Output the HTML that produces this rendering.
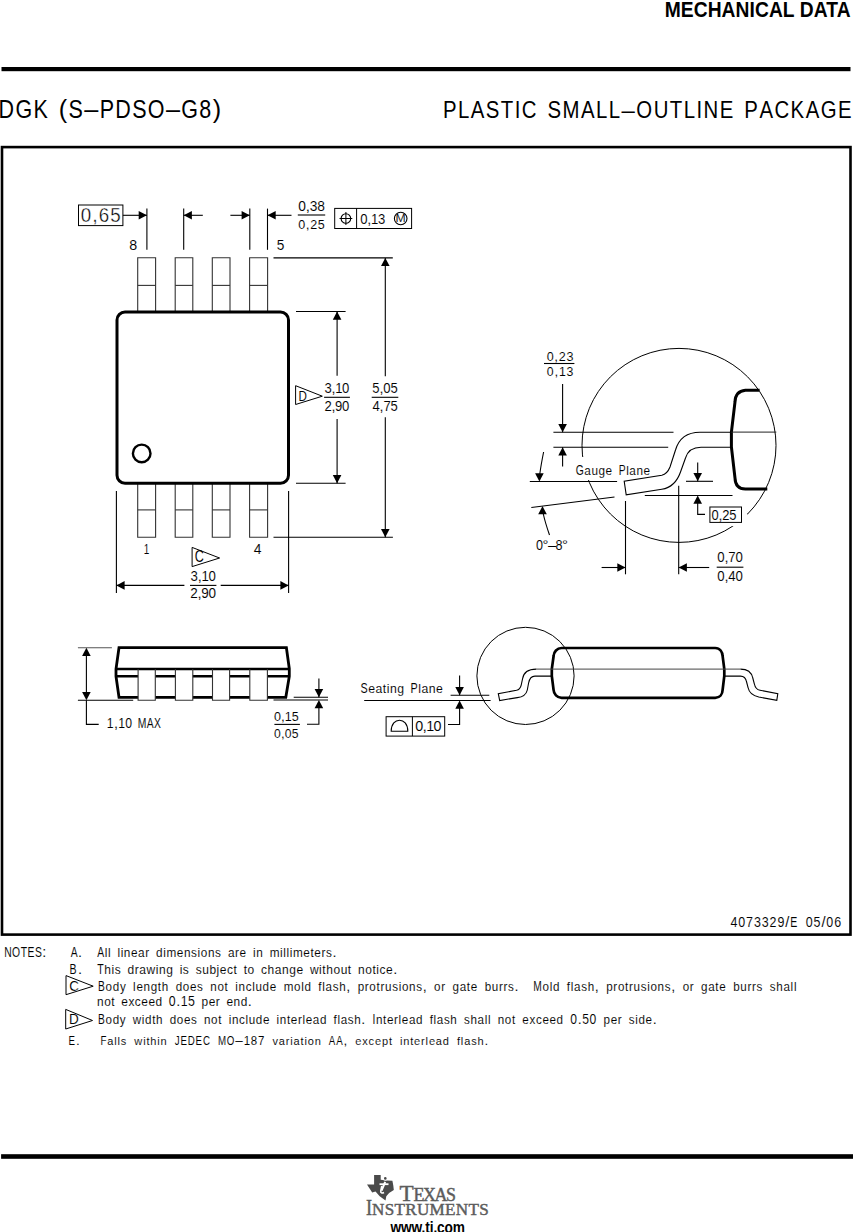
<!DOCTYPE html>
<html><head><meta charset="utf-8"><style>
html,body{margin:0;padding:0;background:#fff;}
svg{display:block;}
text{font-family:"Liberation Sans",sans-serif;stroke:#fff;stroke-width:0.08px;}
text.h{stroke:none;}
</style></head><body>
<svg width="853" height="1232" viewBox="0 0 853 1232">
<rect x="0" y="0" width="853" height="1232" fill="#fff"/>
<text transform="scale(0.9,1)" x="738.57" y="17.00" font-size="21.37" font-weight="bold" fill="#000" textLength="206.44" lengthAdjust="spacing" class="h">MECHANICAL DATA</text>
<rect x="1.5" y="67" width="849" height="4.2" fill="#000"/>
<text transform="scale(0.85,1)" x="-1.72 18.11 39.35 80.67 117.23 135.67 155.50 173.94 213.30" y="118" font-size="25.29" font-weight="normal" fill="#000" style="stroke-width:0px" >DGKSPDSOG</text>
<text x="58.82 84.24 165.90 212.65" y="118" font-size="25.29" font-weight="normal" fill="#000" style="stroke-width:0px" >(––)</text>
<text transform="scale(0.85,1)" x="234.54" y="118" font-size="25.29" font-weight="normal" fill="#000" style="stroke-width:0px" >8</text>
<text transform="scale(0.85,1)" x="521.09 538.78 553.82 571.51 589.20 605.55 613.91 644.16 661.85 683.52 701.22 716.25 748.67 769.02 788.04 804.39 819.42 827.78 846.80 875.72 893.41 911.11 930.12 947.81 965.51 985.86" y="118" font-size="23.98" font-weight="normal" fill="#000" style="stroke-width:0px" >PLASTICSMALLOUTLINEPACKAGE</text>
<text x="621.59" y="118" font-size="23.98" font-weight="normal" fill="#000" style="stroke-width:0px" >–</text>
<rect x="2" y="147.1" width="848.5" height="787.5" fill="none" stroke="#000" stroke-width="2.6"/>
<rect x="78.5" y="205" width="44.40" height="20.60" stroke="#000" stroke-width="1.0" fill="none"/>
<text transform="scale(0.95,1)" x="85.02 104.04 116.15" y="222" font-size="19.77" font-weight="normal" fill="#000" style="stroke-width:0.35px" >065</text>
<text x="92.28" y="222" font-size="19.77" font-weight="normal" fill="#000" style="stroke-width:0.35px" >,</text>
<line x1="122.9" y1="215.3" x2="146.9" y2="215.3" stroke="#000" stroke-width="1.1"/>
<polygon points="146.90,215.30 138.70,211.00 138.70,219.60" fill="#000"/>
<line x1="146.9" y1="208.6" x2="146.9" y2="249.8" stroke="#000" stroke-width="1.1"/>
<line x1="183.7" y1="208.6" x2="183.7" y2="249.8" stroke="#000" stroke-width="1.1"/>
<line x1="249.8" y1="208.6" x2="249.8" y2="249.8" stroke="#000" stroke-width="1.1"/>
<line x1="267.5" y1="208.6" x2="267.5" y2="249.8" stroke="#000" stroke-width="1.1"/>
<line x1="202.8" y1="215.3" x2="183.7" y2="215.3" stroke="#000" stroke-width="1.1"/>
<polygon points="183.70,215.30 191.90,211.00 191.90,219.60" fill="#000"/>
<line x1="230.4" y1="215.3" x2="249.8" y2="215.3" stroke="#000" stroke-width="1.1"/>
<polygon points="249.80,215.30 241.60,211.00 241.60,219.60" fill="#000"/>
<line x1="291.5" y1="215.3" x2="267.5" y2="215.3" stroke="#000" stroke-width="1.1"/>
<polygon points="267.50,215.30 275.70,211.00 275.70,219.60" fill="#000"/>
<text transform="scale(0.92,1)" x="324.20 336.61 344.72" y="211" font-size="14.97" font-weight="normal" fill="#000" >038</text>
<text x="305.72" y="211" font-size="14.97" font-weight="normal" fill="#000" >,</text>
<text transform="scale(0.92,1)" x="324.25 337.17 345.37" y="229" font-size="13.66" font-weight="normal" fill="#000" >025</text>
<text x="305.85" y="229" font-size="13.66" font-weight="normal" fill="#000" >,</text>
<line x1="297.8" y1="215" x2="325.2" y2="215" stroke="#000" stroke-width="1.1"/>
<rect x="334.7" y="208.4" width="76.90" height="20.10" stroke="#000" stroke-width="1.0" fill="none"/>
<line x1="356.6" y1="208.4" x2="356.6" y2="228.5" stroke="#000" stroke-width="1.0"/>
<circle cx="345.9" cy="218.5" r="4.8" fill="none" stroke="#000" stroke-width="1.1"/>
<line x1="339.5" y1="218.5" x2="352.3" y2="218.5" stroke="#000" stroke-width="1.0"/>
<line x1="345.9" y1="212" x2="345.9" y2="225" stroke="#000" stroke-width="1.0"/>
<text transform="scale(0.92,1)" x="391.51 403.27 410.96" y="224" font-size="14.24" font-weight="normal" fill="#000" >013</text>
<text x="367.26" y="224" font-size="14.24" font-weight="normal" fill="#000" >,</text>
<circle cx="400.7" cy="218.5" r="6.3" fill="none" stroke="#000" stroke-width="1.1"/>
<text transform="scale(1.0542,1)" x="375.26" y="222.50" font-size="11.63" font-weight="normal" fill="#000" >M</text>
<text transform="scale(0.9268,1)" x="139.39" y="249.80" font-size="15.41" font-weight="normal" fill="#000" >8</text>
<text transform="scale(0.8898,1)" x="311.02" y="249.80" font-size="15.41" font-weight="normal" fill="#000" >5</text>
<path d="M137.7,311 L137.7,257.8 L155.6,257.8 L155.6,311" stroke="#333" stroke-width="1.1" fill="none" />
<line x1="137.7" y1="285.4" x2="155.6" y2="285.4" stroke="#333" stroke-width="1.1"/>
<path d="M137.7,484 L137.7,537.3 L155.6,537.3 L155.6,484" stroke="#333" stroke-width="1.1" fill="none" />
<line x1="137.7" y1="509.9" x2="155.6" y2="509.9" stroke="#333" stroke-width="1.1"/>
<path d="M175.2,311 L175.2,257.8 L192.8,257.8 L192.8,311" stroke="#333" stroke-width="1.1" fill="none" />
<line x1="175.2" y1="285.4" x2="192.8" y2="285.4" stroke="#333" stroke-width="1.1"/>
<path d="M175.2,484 L175.2,537.3 L192.8,537.3 L192.8,484" stroke="#333" stroke-width="1.1" fill="none" />
<line x1="175.2" y1="509.9" x2="192.8" y2="509.9" stroke="#333" stroke-width="1.1"/>
<path d="M212.3,311 L212.3,257.8 L230.0,257.8 L230.0,311" stroke="#333" stroke-width="1.1" fill="none" />
<line x1="212.3" y1="285.4" x2="230.0" y2="285.4" stroke="#333" stroke-width="1.1"/>
<path d="M212.3,484 L212.3,537.3 L230.0,537.3 L230.0,484" stroke="#333" stroke-width="1.1" fill="none" />
<line x1="212.3" y1="509.9" x2="230.0" y2="509.9" stroke="#333" stroke-width="1.1"/>
<path d="M249.6,311 L249.6,257.8 L267.6,257.8 L267.6,311" stroke="#333" stroke-width="1.1" fill="none" />
<line x1="249.6" y1="285.4" x2="267.6" y2="285.4" stroke="#333" stroke-width="1.1"/>
<path d="M249.6,484 L249.6,537.3 L267.6,537.3 L267.6,484" stroke="#333" stroke-width="1.1" fill="none" />
<line x1="249.6" y1="509.9" x2="267.6" y2="509.9" stroke="#333" stroke-width="1.1"/>
<rect x="117" y="312" width="171.5" height="171.2" rx="8" ry="8" fill="none" stroke="#000" stroke-width="3"/>
<circle cx="141.7" cy="453.4" r="8.8" fill="none" stroke="#000" stroke-width="2.4"/>
<line x1="273.5" y1="257.9" x2="392.8" y2="257.9" stroke="#000" stroke-width="1.1"/>
<line x1="273.5" y1="537.3" x2="392.9" y2="537.3" stroke="#000" stroke-width="1.1"/>
<line x1="385.3" y1="376.3" x2="385.3" y2="257.9" stroke="#000" stroke-width="1.1"/>
<polygon points="385.30,257.90 381.00,266.10 389.60,266.10" fill="#000"/>
<line x1="385.3" y1="417.3" x2="385.3" y2="537.3" stroke="#000" stroke-width="1.1"/>
<polygon points="385.30,537.30 381.00,529.10 389.60,529.10" fill="#000"/>
<line x1="296" y1="311.5" x2="345.6" y2="311.5" stroke="#000" stroke-width="1.1"/>
<line x1="296" y1="483.3" x2="345.6" y2="483.3" stroke="#000" stroke-width="1.1"/>
<line x1="337.1" y1="375.8" x2="337.1" y2="311.5" stroke="#000" stroke-width="1.1"/>
<polygon points="337.10,311.50 332.80,319.70 341.40,319.70" fill="#000"/>
<line x1="337.1" y1="419" x2="337.1" y2="483.3" stroke="#000" stroke-width="1.1"/>
<polygon points="337.10,483.30 332.80,475.10 341.40,475.10" fill="#000"/>
<text transform="scale(0.92,1)" x="352.83 364.32 371.87" y="393" font-size="14.24" font-weight="normal" fill="#000" >310</text>
<text x="331.55" y="393" font-size="14.24" font-weight="normal" fill="#000" >,</text>
<text transform="scale(0.92,1)" x="352.65 364.26 371.87" y="411" font-size="14.24" font-weight="normal" fill="#000" >290</text>
<text x="331.45" y="411" font-size="14.24" font-weight="normal" fill="#000" >,</text>
<line x1="324.1" y1="397.3" x2="349.9" y2="397.3" stroke="#000" stroke-width="1.1"/>
<text transform="scale(0.92,1)" x="404.54 416.66 424.52" y="393" font-size="14.24" font-weight="normal" fill="#000" >505</text>
<text x="379.41" y="393" font-size="14.24" font-weight="normal" fill="#000" >,</text>
<text transform="scale(0.92,1)" x="404.78 416.74 424.52" y="411" font-size="14.24" font-weight="normal" fill="#000" >475</text>
<text x="379.56" y="411" font-size="14.24" font-weight="normal" fill="#000" >,</text>
<line x1="371.7" y1="397.3" x2="398.3" y2="397.3" stroke="#000" stroke-width="1.1"/>
<path d="M295.6,385.7 L322.3,396.2 L295.6,404.5 Z" stroke="#000" stroke-width="1.0" fill="none" />
<text transform="scale(0.7491,1)" x="398.42" y="401.00" font-size="15.55" font-weight="normal" fill="#000" >D</text>
<line x1="116.4" y1="490.9" x2="116.4" y2="593" stroke="#000" stroke-width="1.1"/>
<line x1="288.6" y1="490.9" x2="288.6" y2="593" stroke="#000" stroke-width="1.1"/>
<line x1="184.4" y1="585.4" x2="116.4" y2="585.4" stroke="#000" stroke-width="1.1"/>
<polygon points="116.40,585.40 124.60,581.10 124.60,589.70" fill="#000"/>
<line x1="220.7" y1="585.4" x2="288.6" y2="585.4" stroke="#000" stroke-width="1.1"/>
<polygon points="288.60,585.40 280.40,581.10 280.40,589.70" fill="#000"/>
<text transform="scale(0.92,1)" x="207.06 218.93 226.69" y="581" font-size="14.39" font-weight="normal" fill="#000" >310</text>
<text x="197.64" y="581" font-size="14.39" font-weight="normal" fill="#000" >,</text>
<text transform="scale(0.92,1)" x="206.87 218.74 226.54" y="598" font-size="14.68" font-weight="normal" fill="#000" >290</text>
<text x="197.50" y="598" font-size="14.68" font-weight="normal" fill="#000" >,</text>
<line x1="190" y1="585.4" x2="216.4" y2="585.4" stroke="#000" stroke-width="1.1"/>
<text transform="scale(0.7002,1)" x="205.30" y="553.70" font-size="14.24" font-weight="normal" fill="#000" >1</text>
<text transform="scale(0.9752,1)" x="260.12" y="553.70" font-size="14.24" font-weight="normal" fill="#000" >4</text>
<path d="M192.1,547.4 L219.6,558 L192.1,566.6 Z" stroke="#000" stroke-width="1.0" fill="none" />
<text transform="scale(0.7901,1)" x="246.63" y="562.50" font-size="15.99" font-weight="normal" fill="#000" >C</text>
<circle cx="679" cy="445.4" r="97" fill="none" stroke="#000" stroke-width="1.0"/>
<text transform="scale(0.92,1)" x="594.25 607.40 615.72" y="361" font-size="13.66" font-weight="normal" fill="#000" >023</text>
<text x="554.36" y="361" font-size="13.66" font-weight="normal" fill="#000" >,</text>
<text transform="scale(0.92,1)" x="594.26 607.53 615.87" y="376" font-size="13.37" font-weight="normal" fill="#000" >013</text>
<text x="554.39" y="376" font-size="13.37" font-weight="normal" fill="#000" >,</text>
<line x1="544" y1="363.5" x2="574.4" y2="363.5" stroke="#000" stroke-width="1.1"/>
<line x1="562.6" y1="384" x2="562.6" y2="432.3" stroke="#000" stroke-width="1.1"/>
<polygon points="562.60,432.30 558.30,424.10 566.90,424.10" fill="#000"/>
<line x1="553.4" y1="432.3" x2="673.5" y2="432.3" stroke="#000" stroke-width="1.1"/>
<line x1="553.4" y1="447.3" x2="668.2" y2="447.3" stroke="#000" stroke-width="1.1"/>
<line x1="562.6" y1="466.6" x2="562.6" y2="447.3" stroke="#000" stroke-width="1.1"/>
<polygon points="562.60,447.30 558.30,455.50 566.90,455.50" fill="#000"/>
<rect x="572" y="457" width="80" height="23" fill="#fff"/>
<text transform="scale(0.72,1)" x="799.69 859.39" y="475" font-size="14.39" font-weight="normal" fill="#000" >GP</text>
<text transform="scale(0.95,1)" x="615.12 622.57 630.01 637.45 659.16 662.47 669.91 677.35" y="475" font-size="12.37" font-weight="normal" fill="#000" >augelane</text>
<line x1="529.8" y1="481.5" x2="617.1" y2="481.5" stroke="#000" stroke-width="1.1"/>
<line x1="531.3" y1="507.5" x2="614.5" y2="497" stroke="#000" stroke-width="1.1"/>
<path d="M543.6,452 Q541,465 539.8,474" stroke="#000" stroke-width="1.1" fill="none" />
<polygon points="539.40,481.50 535.10,473.30 543.70,473.30" fill="#000"/>
<path d="M549.5,535 Q545,522 543.2,513.5" stroke="#000" stroke-width="1.1" fill="none" />
<polygon points="542.50,506.10 538.20,514.30 546.80,514.30" fill="#000"/>
<text transform="scale(0.85,1)" x="630.71 653.66" y="550" font-size="14.83" font-weight="normal" fill="#000" >08</text>
<text x="542.56 547.93 562.06" y="550" font-size="14.83" font-weight="normal" fill="#000" >°–°</text>
<path d="M731.5,432.2 L700,432.2 C688,432.2 679,438 675.5,450 L670,467 C668,472 665,474.5 661.8,475.2 L624.2,481.3 L626.2,494.8 L661.8,489.3 C670,488 677,482 680.5,472 L685.5,458 C688,450 693,447.3 701,447.3 L731.5,447.3" stroke="#000" stroke-width="1.1" fill="none" />
<path d="M759.6,390.3 L745.4,390.3 C738,391 735.2,396 735,402 L731.4,432 L731.4,447 L735,478 C735.2,484 738,489 745.4,489 L767.3,489" stroke="#000" stroke-width="3" fill="none" />
<line x1="731.2" y1="432.1" x2="776.3" y2="432.1" stroke="#222" stroke-width="1.0"/>
<line x1="686" y1="481.3" x2="713" y2="481.3" stroke="#000" stroke-width="1.1"/>
<line x1="697.7" y1="462.5" x2="697.7" y2="481.3" stroke="#000" stroke-width="1.1"/>
<polygon points="697.70,481.30 693.40,473.10 702.00,473.10" fill="#000"/>
<line x1="644.8" y1="495.5" x2="732.5" y2="495.5" stroke="#000" stroke-width="1.1"/>
<path d="M697.7,503 L697.7,514.4 L709.9,514.4" stroke="#000" stroke-width="1.1" fill="none" />
<polygon points="697.70,495.50 693.40,503.70 702.00,503.70" fill="#000"/>
<rect x="705" y="503" width="42" height="23" fill="#fff"/>
<rect x="709.9" y="507" width="31.60" height="15.40" stroke="#000" stroke-width="1.0" fill="none"/>
<text transform="scale(0.92,1)" x="773.36 785.09 792.75" y="520" font-size="14.10" font-weight="normal" fill="#000" >025</text>
<text x="718.54" y="520" font-size="14.10" font-weight="normal" fill="#000" >,</text>
<line x1="625.5" y1="501" x2="625.5" y2="574.3" stroke="#000" stroke-width="1.1"/>
<line x1="678.7" y1="485.7" x2="678.7" y2="574.3" stroke="#000" stroke-width="1.1"/>
<line x1="601.6" y1="567.5" x2="625.5" y2="567.5" stroke="#000" stroke-width="1.1"/>
<polygon points="625.50,567.50 617.30,563.20 617.30,571.80" fill="#000"/>
<line x1="709.2" y1="567.5" x2="678.7" y2="567.5" stroke="#000" stroke-width="1.1"/>
<polygon points="678.70,567.50 686.90,563.20 686.90,571.80" fill="#000"/>
<text transform="scale(0.92,1)" x="779.55 791.64 799.52" y="562" font-size="14.39" font-weight="normal" fill="#000" >070</text>
<text x="724.43" y="562" font-size="14.39" font-weight="normal" fill="#000" >,</text>
<text transform="scale(0.92,1)" x="779.55 791.64 799.52" y="581" font-size="14.39" font-weight="normal" fill="#000" >040</text>
<text x="724.43" y="581" font-size="14.39" font-weight="normal" fill="#000" >,</text>
<line x1="716.7" y1="567.2" x2="743.4" y2="567.2" stroke="#000" stroke-width="1.1"/>
<path d="M119,647.7 L286.4,647.7 L289.3,668.7 L289.3,676.3 L285.8,697.3 L119,697.3 L116,676.3 L116,669 Z" stroke="#000" stroke-width="2.8" fill="none" />
<line x1="116" y1="669" x2="289.3" y2="669" stroke="#000" stroke-width="2.6"/>
<line x1="116" y1="676.3" x2="289.3" y2="676.3" stroke="#000" stroke-width="2.6"/>
<rect x="138.1" y="671" width="17.20" height="29.2" fill="#fff" stroke="none"/>
<path d="M138.1,669 L138.1,700.2 L155.3,700.2 L155.3,669" stroke="#333" stroke-width="1.1" fill="none" />
<rect x="175.4" y="671" width="17.40" height="29.2" fill="#fff" stroke="none"/>
<path d="M175.4,669 L175.4,700.2 L192.8,700.2 L192.8,669" stroke="#333" stroke-width="1.1" fill="none" />
<rect x="212.5" y="671" width="17.10" height="29.2" fill="#fff" stroke="none"/>
<path d="M212.5,669 L212.5,700.2 L229.6,700.2 L229.6,669" stroke="#333" stroke-width="1.1" fill="none" />
<rect x="249.8" y="671" width="17.60" height="29.2" fill="#fff" stroke="none"/>
<path d="M249.8,669 L249.8,700.2 L267.4,700.2 L267.4,669" stroke="#333" stroke-width="1.1" fill="none" />
<line x1="77.9" y1="647.7" x2="111.9" y2="647.7" stroke="#555" stroke-width="1.1"/>
<line x1="77.9" y1="700.2" x2="133.2" y2="700.2" stroke="#000" stroke-width="1.1"/>
<line x1="86.4" y1="652" x2="86.4" y2="696" stroke="#000" stroke-width="1.1"/>
<polygon points="86.40,647.70 82.10,655.90 90.70,655.90" fill="#000"/>
<polygon points="86.40,700.20 82.10,692.00 90.70,692.00" fill="#000"/>
<path d="M86.4,700.2 L86.4,724.4 L98.7,724.4" stroke="#000" stroke-width="1.1" fill="none" />
<text transform="scale(0.85,1)" x="125.61 139.07 147.45" y="728" font-size="14.39" font-weight="normal" fill="#000" >110</text>
<text x="113.89" y="728" font-size="14.39" font-weight="normal" fill="#000" >,</text>
<text transform="scale(0.72,1)" x="191.29 203.72 213.76" y="728" font-size="14.39" font-weight="normal" fill="#000" >MAX</text>
<line x1="293.7" y1="697.3" x2="328" y2="697.3" stroke="#000" stroke-width="1.1"/>
<line x1="273.5" y1="700" x2="328" y2="700" stroke="#000" stroke-width="1.1"/>
<line x1="318.9" y1="678.4" x2="318.9" y2="697.3" stroke="#000" stroke-width="1.1"/>
<polygon points="318.90,697.30 314.60,689.10 323.20,689.10" fill="#000"/>
<path d="M318.9,708 L318.9,724.2 L307,724.2" stroke="#000" stroke-width="1.1" fill="none" />
<polygon points="318.90,700.00 314.60,708.20 323.20,708.20" fill="#000"/>
<text transform="scale(0.92,1)" x="297.73 309.42 317.00" y="721" font-size="13.66" font-weight="normal" fill="#000" >015</text>
<text x="280.88" y="721" font-size="13.66" font-weight="normal" fill="#000" >,</text>
<text transform="scale(0.92,1)" x="297.74 309.61 317.22" y="738" font-size="13.23" font-weight="normal" fill="#000" >005</text>
<text x="280.93" y="738" font-size="13.23" font-weight="normal" fill="#000" >,</text>
<line x1="274.4" y1="724.4" x2="299.9" y2="724.4" stroke="#000" stroke-width="1.1"/>
<circle cx="525.5" cy="675.9" r="48.6" fill="none" stroke="#000" stroke-width="1.0"/>
<text transform="scale(0.72,1)" x="500.85 570.27" y="693" font-size="14.97" font-weight="normal" fill="#000" >SP</text>
<text transform="scale(0.95,1)" x="387.67 395.34 403.00 407.09 410.46 418.13 440.28 443.65 451.32 458.99" y="693" font-size="12.88" font-weight="normal" fill="#000" >eatinglane</text>
<line x1="364.2" y1="700.5" x2="490.6" y2="700.5" stroke="#000" stroke-width="1.1"/>
<line x1="450.6" y1="695.3" x2="489.3" y2="695.3" stroke="#000" stroke-width="1.1"/>
<line x1="459.6" y1="675.5" x2="459.6" y2="695.3" stroke="#000" stroke-width="1.1"/>
<polygon points="459.60,695.30 455.30,687.10 463.90,687.10" fill="#000"/>
<path d="M459.6,708 L459.6,724.5 L448,724.5" stroke="#000" stroke-width="1.1" fill="none" />
<polygon points="459.60,700.50 455.30,708.70 463.90,708.70" fill="#000"/>
<rect x="386.1" y="716.7" width="58.60" height="19.40" stroke="#000" stroke-width="1.0" fill="none"/>
<line x1="412.4" y1="716.7" x2="412.4" y2="736.1" stroke="#000" stroke-width="1.0"/>
<path d="M391.2,731.3 C391.2,716.5 407.8,716.5 407.8,731.3 Z" stroke="#000" stroke-width="1.1" fill="none" />
<text transform="scale(0.92,1)" x="451.35 463.19 471.09" y="731" font-size="15.55" font-weight="normal" fill="#000" >010</text>
<text x="422.51" y="731" font-size="15.55" font-weight="normal" fill="#000" >,</text>
<path d="M561.6,648 L715.2,648 C720,648 722.5,652 722.6,656 L724.3,669 L724.3,676 L722.6,690 C722.5,694 720,697.8 715.2,697.8 L561.6,697.8 C557,697.8 553.8,694 553.6,690 L551.8,676 L551.8,669 L553.6,656 C553.8,652 557,648 561.6,648 Z" stroke="#000" stroke-width="2.7" fill="none" />
<line x1="536.3" y1="669.1" x2="740.5" y2="669.1" stroke="#444" stroke-width="1.0"/>
<path d="M551.8,676.1 L534.9,676.1 C531,676.1 529.5,678.5 528.6,683 L527.3,690 C526.3,694.5 523,697 517.3,697.6 L499.7,700.5 L498.3,693.6 L516.5,690.3 C519,689.7 520.5,688 521.2,685 L522.5,679 C523.5,672.5 528,669.1 536.3,669.1" stroke="#000" stroke-width="1.1" fill="none" />
<path d="M724.3,676.1 L740.5,676.1 C744,676.1 745.8,678.3 746.6,682 L748.2,688 C749,692 752,695.5 758.8,697 L776.8,700.3 L777.8,693.6 L760,690.3 C756.5,689.6 755,687 754.4,684 L752.8,678 C751.5,672 747,669.1 740.5,669.1" stroke="#000" stroke-width="1.1" fill="none" />
<text transform="scale(0.85,1)" x="859.31 868.52 877.73 886.94 896.15 905.36 914.57 947.95 957.16 972.21 981.42" y="927" font-size="14.68" font-weight="normal" fill="#000" >40733290506</text>
<text x="785.21 821.41" y="927" font-size="14.68" font-weight="normal" fill="#000" >//</text>
<text transform="scale(0.72,1)" x="1097.47" y="927" font-size="14.68" font-weight="normal" fill="#000" >E</text>
<text transform="scale(0.72,1)" x="5.76 16.84 28.72 38.20 48.49" y="957" font-size="14.39" font-weight="normal" fill="#000" >NOTES</text>
<text x="42.32" y="957" font-size="14.39" font-weight="normal" fill="#000" >:</text>
<text transform="scale(0.72,1)" x="98.44" y="957" font-size="14.39" font-weight="normal" fill="#000" >A</text>
<text x="78.02" y="957" font-size="14.39" font-weight="normal" fill="#000" >.</text>
<text transform="scale(0.72,1)" x="134.97" y="957" font-size="14.39" font-weight="normal" fill="#000" >A</text>
<text transform="scale(0.95,1)" x="110.19 113.57 123.64 127.01 130.39 137.89 145.40 152.90 164.35 171.86 175.23 186.16 193.67 201.18 207.99 211.36 218.87 226.37 239.89 247.39 252.14 266.34 269.72 283.93 294.86 298.23 301.60 304.98 308.35 319.28 326.79 330.85 338.36 343.10" y="957" font-size="12.38" font-weight="normal" fill="#000" >lllineardimensionsareinmillimeters</text>
<text x="332.42" y="957" font-size="14.39" font-weight="normal" fill="#000" >.</text>
<text transform="scale(0.72,1)" x="96.57" y="974" font-size="14.68" font-weight="normal" fill="#000" >B</text>
<text x="77.96" y="974" font-size="14.68" font-weight="normal" fill="#000" >.</text>
<text transform="scale(0.72,1)" x="135.23" y="974" font-size="14.68" font-weight="normal" fill="#000" >T</text>
<text transform="scale(0.95,1)" x="109.86 117.45 120.83 134.30 141.89 146.67 154.26 163.95 167.33 174.92 189.10 192.48 205.95 212.83 220.43 228.02 231.40 238.99 245.88 256.54 260.62 274.80 281.69 289.28 296.87 304.47 312.06 326.24 335.93 339.31 343.39 350.98 358.58 366.17 376.83 384.43 392.02 396.10 399.48 406.37" y="974" font-size="12.63" font-weight="normal" fill="#000" >hisdrawingissubjecttochangewithoutnotice</text>
<text x="393.26" y="974" font-size="14.68" font-weight="normal" fill="#000" >.</text>
<path d="M66,975.6 L93.2,986.2 L66,994.7 Z" stroke="#000" stroke-width="1.0" fill="none" />
<text transform="scale(0.8794,1)" x="78.82" y="991.00" font-size="15.26" font-weight="normal" fill="#000" >C</text>
<text transform="scale(0.72,1)" x="136.19 740.70" y="991" font-size="14.24" font-weight="normal" fill="#000" >BM</text>
<text transform="scale(0.95,1)" x="111.14 118.68 126.21 140.11 143.56 151.09 158.63 166.16 170.29 184.88 192.41 199.95 207.48 221.38 228.92 236.45 247.63 251.07 258.61 265.46 268.90 276.44 283.97 298.56 309.49 317.02 320.46 335.05 339.18 342.62 350.16 357.00 376.48 384.02 388.82 396.35 400.48 405.28 412.81 419.66 423.10 430.64 438.17 456.96 464.50 476.35 483.89 491.42 495.55 510.14 517.67 525.21 530.01 534.81 571.09 578.63 582.07 596.66 600.78 604.23 611.76 618.61 638.09 645.62 650.42 657.96 662.08 666.88 674.42 681.27 684.71 692.24 699.78 718.57 726.10 737.96 745.49 753.03 757.15 771.74 779.28 786.81 791.61 796.42 810.32 817.16 824.70 832.23 835.68" y="991" font-size="12.25" font-weight="normal" fill="#000" >odylengthdoesnotincludemoldflashprotrusionsorgateburrsoldflashprotrusionsorgateburrsshall</text>
<text x="346.31 422.77 514.57 594.84 671.29" y="991" font-size="14.24" font-weight="normal" fill="#000" >,,.,,</text>
<text transform="scale(0.95,1)" x="102.22 109.72 117.21 127.66 135.16 141.95 148.74 156.24 163.74 212.21 219.71 227.21 238.34 245.84 253.33" y="1006" font-size="12.50" font-weight="normal" fill="#000" >notexceedperend</text>
<text transform="scale(0.85,1)" x="198.56 212.61 221.31" y="1006" font-size="14.53" font-weight="normal" fill="#000" >015</text>
<text x="176.17 247.79" y="1006" font-size="14.53" font-weight="normal" fill="#000" >..</text>
<path d="M65.7,1009.4 L92.5,1020.5 L65.7,1029 Z" stroke="#000" stroke-width="1.0" fill="none" />
<text transform="scale(0.9201,1)" x="74.88" y="1024.50" font-size="14.68" font-weight="normal" fill="#000" >D</text>
<text transform="scale(0.72,1)" x="136.19 517.33" y="1024" font-size="14.24" font-weight="normal" fill="#000" >BI</text>
<text transform="scale(0.95,1)" x="111.10 118.59 126.08 139.76 149.28 152.68 160.17 164.25 178.62 186.11 193.60 201.09 214.76 222.25 229.74 240.70 244.10 251.59 258.39 261.79 269.28 276.77 291.14 294.54 302.03 306.11 313.60 318.35 321.75 329.24 336.73 351.10 355.18 358.58 366.07 372.87 395.76 403.25 407.33 414.82 419.57 422.97 430.46 437.95 452.32 456.40 459.80 467.29 474.09 488.46 495.26 502.75 510.24 513.64 523.91 531.40 538.89 549.85 557.34 564.14 570.94 578.43 585.92 635.30 642.79 650.28 661.92 668.72 672.12 679.61" y="1024" font-size="12.25" font-weight="normal" fill="#000" >odywidthdoesnotincludeinterleadflashnterleadflashshallnotexceedperside</text>
<text x="361.34 577.65 652.74" y="1024" font-size="14.24" font-weight="normal" fill="#000" >...</text>
<text transform="scale(0.85,1)" x="670.91 685.00 693.68" y="1024" font-size="14.24" font-weight="normal" fill="#000" >050</text>
<text transform="scale(0.72,1)" x="95.28" y="1045" font-size="13.52" font-weight="normal" fill="#000" >E</text>
<text x="75.98" y="1045" font-size="13.52" font-weight="normal" fill="#000" >.</text>
<text transform="scale(0.72,1)" x="139.59 242.66 250.58 260.77 271.69 281.88 302.68 315.11 456.75 466.93" y="1045" font-size="13.52" font-weight="normal" fill="#000" >FJEDECMOAA</text>
<text transform="scale(0.95,1)" x="112.93 120.28 123.75 127.21 141.40 150.68 154.14 158.26 165.61 169.07 286.79 293.48 300.83 305.59 309.05 316.40 320.52 323.98 331.33 373.93 381.28 387.97 394.67 402.02 409.37 420.97 424.44 431.78 435.90 443.25 448.00 451.47 458.82 466.17 481.00 485.12 488.58 495.93 502.63" y="1045" font-size="11.62" font-weight="normal" fill="#000" >allswithinvariationexceptinterleadflash</text>
<text x="235.29 343.52 484.48" y="1045" font-size="13.52" font-weight="normal" fill="#000" >–,.</text>
<text transform="scale(0.85,1)" x="286.64 295.15 303.65" y="1045" font-size="13.52" font-weight="normal" fill="#000" >187</text>
<rect x="1.1" y="1154.2" width="852" height="4.6" fill="#000"/>
<path d="M374.1,1175 L380.7,1175 L380.7,1179.7 L387.2,1180.4 L392.4,1180.7 L393.3,1185.4 L393.8,1190 L389.1,1192.9 L386.3,1196.2 L385.5,1200.6 L379.7,1196.2 L375.5,1191.5 L372.2,1192.4 L367,1184.4 L374.1,1184.4 Z" fill="#4a4a4a"/>
<path d="M385.2,1181.8 L381.6,1190.5" stroke="#fff" stroke-width="2" fill="none"/>
<path d="M379.5,1184.2 L388.5,1184.2" stroke="#fff" stroke-width="1.8" fill="none"/>
<path d="M381.8,1186 L380.8,1191 C380.5,1193 382,1193.5 384,1192.5" stroke="#fff" stroke-width="1.6" fill="none"/>
<circle cx="385.3" cy="1178.4" r="2.3" fill="#fff"/>
<circle cx="385.3" cy="1178.4" r="1.3" fill="#4a4a4a"/>
<text x="399.48" y="1200.50" font-size="23.21" font-weight="normal" fill="#5c5c5c" style="font-family:'Liberation Serif';stroke:#5c5c5c;stroke-width:0.45px">T</text>
<text x="413.49" y="1200.50" font-size="17.86" font-weight="normal" fill="#5c5c5c" textLength="42.42" lengthAdjust="spacing" style="font-family:'Liberation Serif';stroke:#5c5c5c;stroke-width:0.45px">EXAS</text>
<text transform="scale(0.8285,1)" x="441.82" y="1215.20" font-size="22.14" font-weight="normal" fill="#5c5c5c" style="font-family:'Liberation Serif';stroke:#5c5c5c;stroke-width:0.45px">I</text>
<text x="372.01" y="1215.20" font-size="17.10" font-weight="normal" fill="#5c5c5c" textLength="116.65" lengthAdjust="spacing" style="font-family:'Liberation Serif';stroke:#5c5c5c;stroke-width:0.45px">NSTRUMENTS</text>
<text transform="scale(0.85,1)" x="459.34" y="1233.40" font-size="16.14" font-weight="bold" fill="#000" textLength="87.78" lengthAdjust="spacing" class="h">www.ti.com</text>
</svg>
</body></html>
